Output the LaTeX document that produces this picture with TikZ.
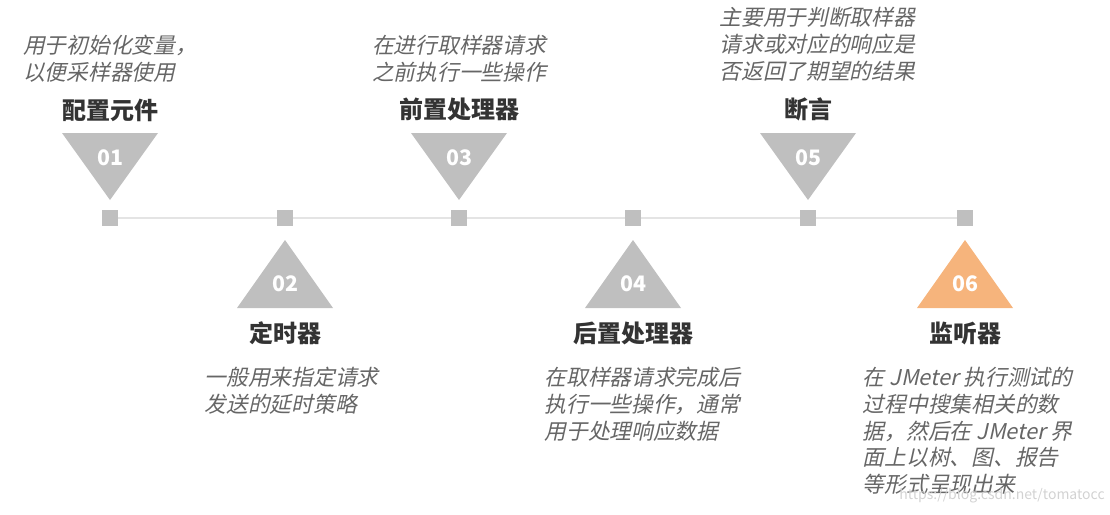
\documentclass[tikz,border=0pt]{standalone}
\usepackage{fontspec}
\usepackage{xcolor}
\setmainfont{Noto Sans CJK SC}
\newfontfamily\cjkit[FakeSlant=0.22]{Noto Sans CJK SC}
\usetikzlibrary{positioning}
\definecolor{tgray}{HTML}{BFBFBF}
\definecolor{torange}{HTML}{F6B47C}
\definecolor{tline}{HTML}{E4E4E4}
\definecolor{ttitle}{HTML}{333333}
\definecolor{tdesc}{HTML}{666666}

\begin{document}
\begin{tikzpicture}[x=0.75pt,y=-0.75pt]%
  \tikzstyle{dotbox}=[rectangle,fill=tgray,minimum size=12pt,inner sep=0]
  \tikzstyle{num}=[text=white,font=\fontsize{16}{18}\selectfont\bfseries,inner sep=0]
  \tikzstyle{head}=[text=ttitle,font=\fontsize{18}{22}\selectfont\bfseries,inner sep=0]
  \tikzstyle{desc}=[text=tdesc,font=\fontsize{16.3}{20.2}\selectfont\cjkit,align=left,inner sep=0]
  \useasboundingbox (0,0) rectangle (1110,514);
  % timeline
  \coordinate (c1) at (110,218);
  \coordinate (c2) at (285,218);
  \coordinate (c3) at (459,218);
  \coordinate (c4) at (633,218);
  \coordinate (c5) at (808,218);
  \coordinate (c6) at (965,218);
  \draw[tline,line width=1.5pt] (c1) -- (c6);
  \node(m1)[dotbox] at (c1) {};
  \node(m2)[dotbox] at (c2) {};
  \node(m3)[dotbox] at (c3) {};
  \node(m4)[dotbox] at (c4) {};
  \node(m5)[dotbox] at (c5) {};
  \node(m6)[dotbox] at (c6) {};
  % triangles
  \fill[tgray] (c1) ++(-48,-85) -- ++(96,0) -- ++(-48,67) -- cycle;
  \fill[tgray] (c3) ++(-48,-85) -- ++(96,0) -- ++(-48,67) -- cycle;
  \fill[tgray] (c5) ++(-48,-85) -- ++(96,0) -- ++(-48,67) -- cycle;
  \fill[tgray] (c2) ++(-48,90) -- ++(96,0) -- ++(-48,-68) -- cycle;
  \fill[tgray] (c4) ++(-48,90) -- ++(96,0) -- ++(-48,-68) -- cycle;
  \fill[torange] (c6) ++(-48,90) -- ++(96,0) -- ++(-48,-68) -- cycle;
  \node(n1)[num] at (110,158) {01};
  \node(n3)[num] at (459,158) {03};
  \node(n5)[num] at (808,158) {05};
  \node(n2)[num] at (285,284) {02};
  \node(n4)[num] at (633,284) {04};
  \node(n6)[num] at (965,284) {06};
  % titles
  \node(t1)[head,above=21pt of n1] {配置元件};
  \node(t3)[head,above=21pt of n3] {前置处理器};
  \node(t5)[head,above=21pt of n5] {断言};
  \node(t2)[head,below=22pt of n2] {定时器};
  \node(t4)[head,below=22pt of n4] {后置处理器};
  \node(t6)[head,below=22pt of n6] {监听器};
  % descriptions
  \node(d1)[desc,above=12pt of t1] {用于初始化变量，\\以便采样器使用};
  \node(d3)[desc,above=12pt of t3] {在进行取样器请求\\之前执行一些操作};
  \node(d5)[desc,above=12pt of t5,xshift=7pt] {主要用于判断取样器\\请求或对应的响应是\\否返回了期望的结果};
  \node(d2)[desc,below=16pt of t2,xshift=5pt] {一般用来指定请求\\发送的延时策略};
  \node(d4)[desc,below=16pt of t4,xshift=7pt] {在取样器请求完成后\\执行一些操作，通常\\用于处理响应数据};
  \node(d6)[desc,below=16pt of t6,xshift=2pt] {在 JMeter 执行测试的\\过程中搜集相关的数\\据，然后在 JMeter 界\\面上以树、图、报告\\等形式呈现出来};
  \node(wm)[text=gray!35,font=\fontsize{10.5}{12}\selectfont,inner sep=0] at (1002,496) {https://blog.csdn.net/tomatocc};
\end{tikzpicture}
\end{document}
